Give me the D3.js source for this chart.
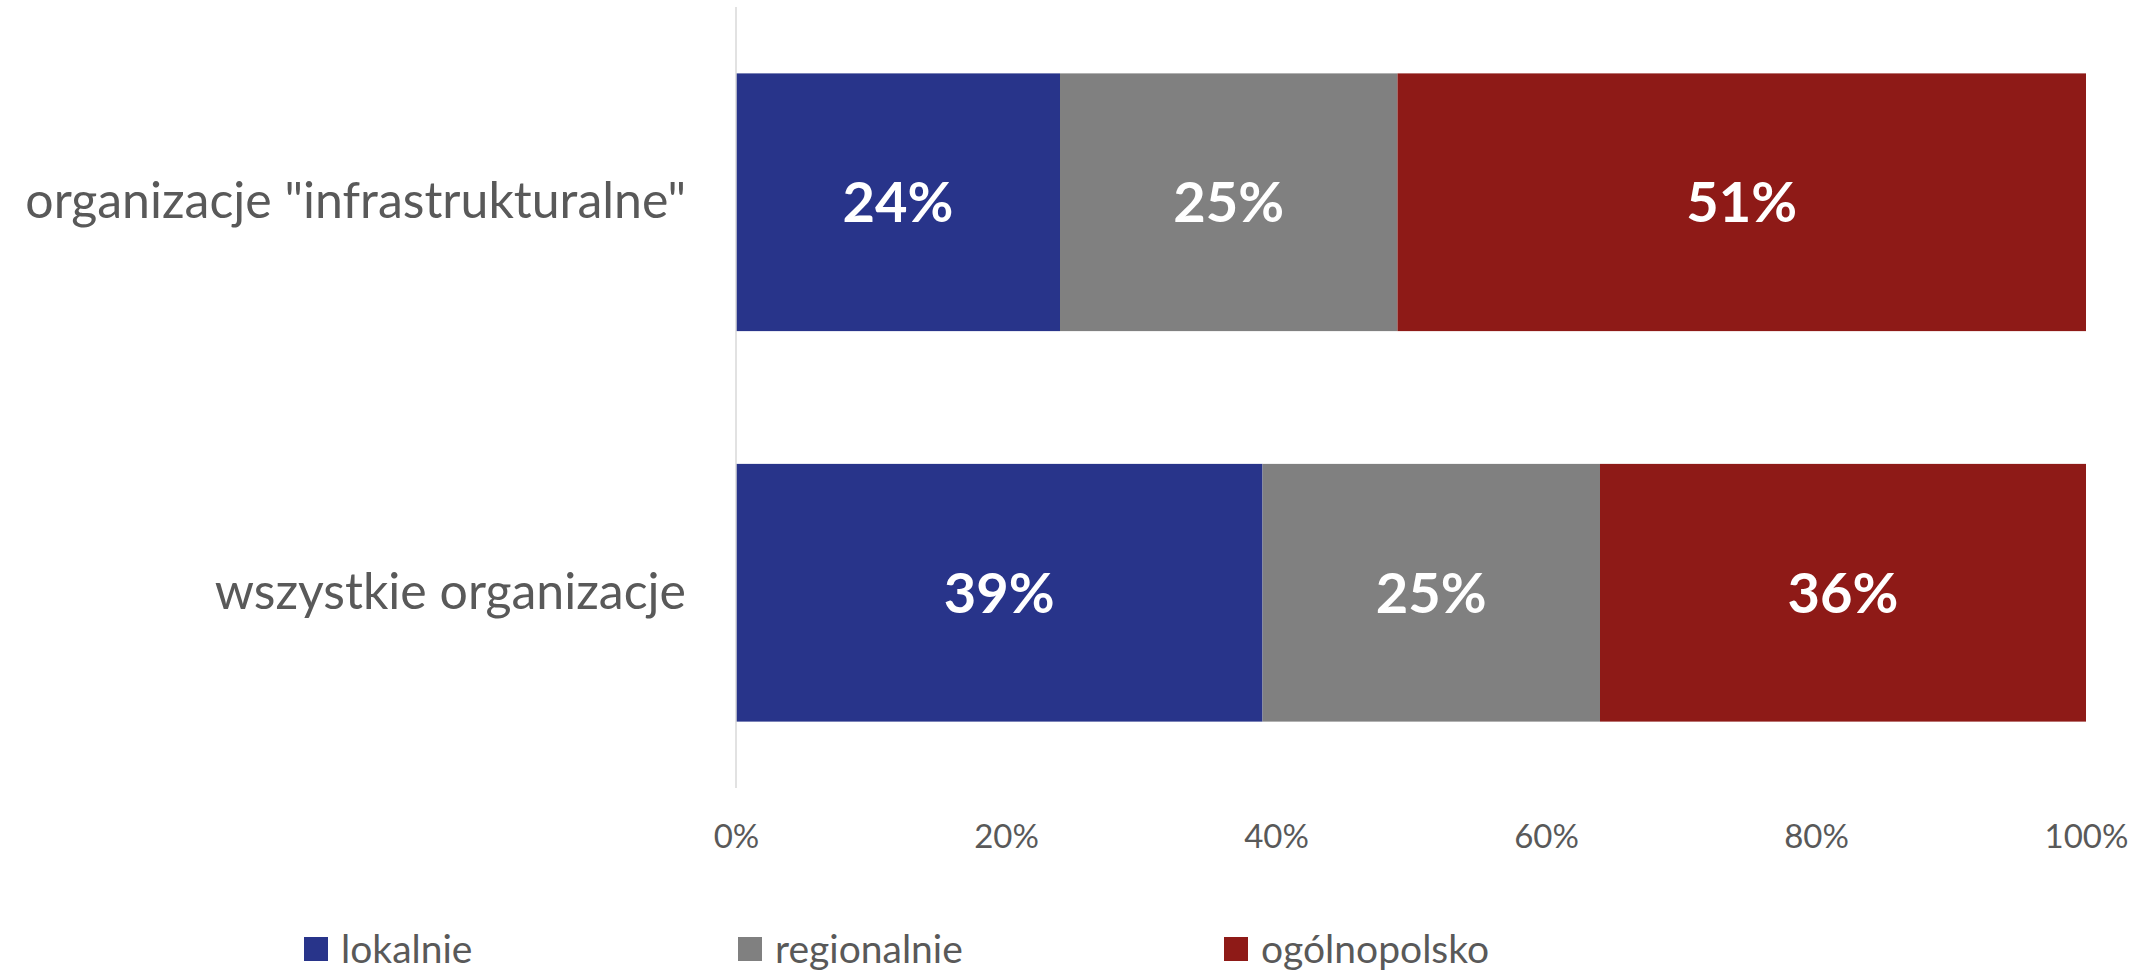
<!DOCTYPE html>
<html>
<head>
<meta charset="utf-8">
<script src="https://cdn.jsdelivr.net/npm/d3@7"></script>
<style>
  body { margin: 0; background: #fff; }
  text { font-family: Lato, "Open Sans", sans-serif; }
</style>
</head>
<body>
<script>
// data
var categories = ['organizacje "infrastrukturalne"', 'wszystkie organizacje']
var seriesNames = ['lokalnie', 'regionalnie', 'ogólnopolsko']
var lokalnie = [24, 39]
var regionalnie = [25, 25]
var ogolnopolsko = [51, 36]
var tickValues = [0, 20, 40, 60, 80, 100]

var colors = ['#28348a', '#808080', '#8e1a17']

var width = 2150
var height = 971
var margin = { left: 736, right: 64, top: 7, bottom: 183 }

var rows = categories.map(function(c, i){
    return { cat: c, lokalnie: lokalnie[i], regionalnie: regionalnie[i], 'ogólnopolsko': ogolnopolsko[i] }
})
var stacked = d3.stack().keys(seriesNames)(rows)

var svg = d3.select('body').append('svg')
    .attr('width', width)
    .attr('height', height)

// scales
var x = d3.scaleLinear()
    .domain([0, 100])
    .range([margin.left, width - margin.right])

var y = d3.scaleBand()
    .domain(categories)
    .range([margin.top, height - margin.bottom])
    .paddingInner(0.34)
    .paddingOuter(0.17)

// bars
var layers = svg.selectAll('g.layer')
    .data(stacked)
    .enter().append('g')
    .attr('class', 'layer')
    .attr('fill', function(d, i){ return colors[i] })

layers.selectAll('rect')
    .data(function(d){ return d })
    .enter().append('rect')
    .attr('x', function(d){ return x(d[0]) })
    .attr('y', function(d){ return y(d.data.cat) })
    .attr('width', function(d){ return x(d[1]) - x(d[0]) })
    .attr('height', y.bandwidth())

// value labels
layers.selectAll('text')
    .data(function(d){ return d })
    .enter().append('text')
    .attr('x', function(d){ return (x(d[0]) + x(d[1])) / 2 })
    .attr('y', function(d){ return y(d.data.cat) + y.bandwidth() / 2 })
    .attr('dy', '0.36em')
    .attr('text-anchor', 'middle')
    .attr('fill', '#fff')
    .attr('font-weight', 'bold')
    .attr('font-size', 56)
    .text(function(d){ return Math.round(d[1] - d[0]) + '%' })

// vertical axis line
svg.append('line')
    .attr('x1', x(0)).attr('x2', x(0))
    .attr('y1', margin.top).attr('y2', height - margin.bottom)
    .attr('stroke', '#d9d9d9')
    .attr('stroke-width', 1.5)

// x axis
var xAxis = svg.append('g')
    .attr('transform', 'translate(0,' + (height - margin.bottom) + ')')
    .call(d3.axisBottom(x).tickValues(tickValues).tickSize(0).tickFormat(function(d){ return d + '%' }))
xAxis.select('.domain').remove()
xAxis.selectAll('text')
    .attr('y', 48)
    .attr('dy', '0.36em')
    .attr('fill', '#595959')
    .attr('font-size', 33)
    .style('font-family', 'Lato, sans-serif')

// y axis labels
var yAxis = svg.append('g')
    .attr('transform', 'translate(' + x(0) + ',0)')
    .call(d3.axisLeft(y).tickSize(0).tickPadding(50))
yAxis.select('.domain').remove()
yAxis.selectAll('text')
    .attr('fill', '#595959')
    .attr('font-size', 50)
    .style('font-family', 'Lato, sans-serif')

// legend
var legendX = [304, 738, 1224]
var legendY = 949
var legend = svg.selectAll('g.legend')
    .data(seriesNames)
    .enter().append('g')
    .attr('class', 'legend')
    .attr('transform', function(d, i){ return 'translate(' + legendX[i] + ',' + legendY + ')' })

legend.append('rect')
    .attr('x', 0)
    .attr('y', -12)
    .attr('width', 24)
    .attr('height', 24)
    .attr('fill', function(d, i){ return colors[i] })

legend.append('text')
    .attr('x', 37)
    .attr('dy', '0.36em')
    .attr('fill', '#595959')
    .attr('font-size', 39)
    .text(function(d){ return d })
</script>
</body>
</html>
